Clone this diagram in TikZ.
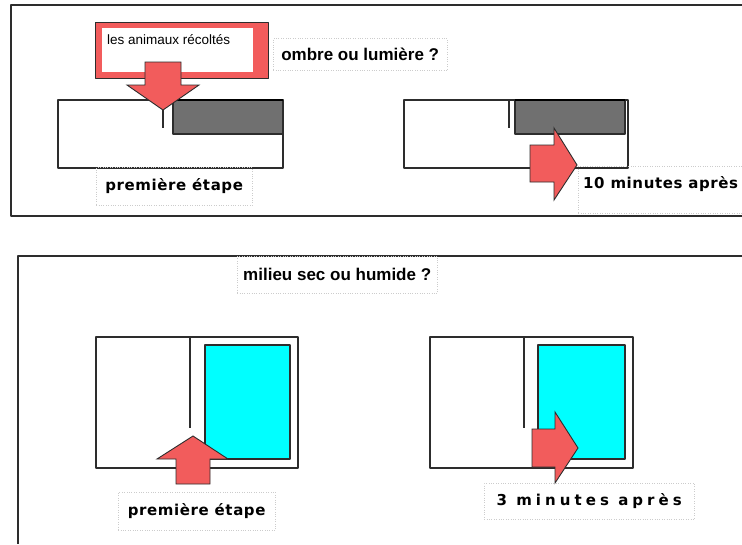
\documentclass[tikz,border=0pt]{standalone}
\usepackage{fontspec}
\setmainfont{Liberation Sans}
\newfontfamily\stepfont{DejaVu Sans}[LetterSpace=4]
\newfontfamily\widefont{DejaVu Sans}[LetterSpace=27]
\definecolor{arrowred}{RGB}{242,92,92}
\definecolor{shadegray}{RGB}{112,112,112}
\definecolor{wetcyan}{RGB}{0,255,255}
\definecolor{edgegray}{RGB}{45,45,45}
\tikzset{
	lbl/.style={draw=gray!40, dotted, anchor=north west, inner xsep=4pt, inner ysep=0pt, align=left},
	question/.style={lbl, font=\fontsize{17}{19}\selectfont\bfseries},
	steplbl/.style={lbl, font=\fontsize{15}{17}\selectfont\stepfont\bfseries},
	pointer/.style={fill=arrowred, draw=edgegray, line width=0.9pt, line join=miter}
}
\begin{document}
\begin{tikzpicture}[x=1pt, y=-1pt, line join=round]
				\useasboundingbox (0,0) rectangle (742,544);
				\fill[white] (0,0) rectangle (742,544);
				% frames of the two experiments
				\draw[edgegray, line width=1.6pt] (742,5)--(11,5)--(11,216)--(742,216);
				\draw[edgegray, line width=1.6pt] (742,256)--(18,256)--(18,544);
				% light : boxes with the dark part
				\foreach \l/\r/\d/\g/\h in {58/283/163/173/283,404/628/509/515/625} {
					\draw[edgegray, line width=1.1pt] (\l,100) rectangle (\r,168);
					\draw[edgegray, line width=1.1pt] (\d,100)--(\d,128);
					\filldraw[fill=shadegray, draw=edgegray, line width=1.1pt] (\g,100) rectangle (\h,134);
					\draw[black, line width=2pt] (\g,100)--(\h,100);
				}
				% humidity : boxes with the wet part
				\foreach \l/\r/\d/\g/\h in {96/298/190/205/290,430/633/524/538/625} {
					\draw[edgegray, line width=1.1pt] (\l,337) rectangle (\r,468);
					\draw[edgegray, line width=1.1pt] (\d,337)--(\d,428);
					\filldraw[fill=wetcyan, draw=edgegray, line width=1.1pt] (\g,345) rectangle (\h,459);
				}
				% where the animals come from
				\filldraw[fill=arrowred, draw=edgegray, line width=1pt] (95,22) rectangle (268,78);
				\fill[white] (102,28) rectangle (253,72);
				\node[anchor=west, inner sep=0pt, font=\fontsize{13.5}{15}\selectfont] (animaux) at (107,40) {les animaux récoltés};
				% arrows
				\draw[pointer] (145,62)--(181,62)--(181,85)--(199,85)--(163,110)--(127,85)--(145,85)--cycle;
				\draw[pointer] (530,145)--(554,145)--(554,128)--(577,165)--(554,200)--(554,182)--(530,182)--cycle;
				\draw[pointer] (176,484)--(176,459)--(157,459)--(193,436)--(228,459)--(210,459)--(210,484)--cycle;
				\draw[pointer] (532,429)--(555,429)--(555,412)--(578,448)--(555,483)--(555,467)--(532,467)--cycle;
				% labels
				\node[question, minimum width=174, minimum height=32] (ombre) at (273,38) {ombre ou lumière ?};
				\node[question, minimum width=200, minimum height=37, inner xsep=3pt] (milieu) at (237,256) {milieu sec ou humide ?};
				\node[steplbl, minimum width=156, minimum height=38, inner xsep=3pt] (etapeA) at (96,167) {première étape};
				\node[steplbl, minimum width=164, minimum height=47, inner xsep=5pt, text depth=15pt] (dixmin) at (578,166) {10 minutes après};
				\node[steplbl, minimum width=157, minimum height=38, inner xsep=7pt] (etapeB) at (118,492) {première étape};
				\node[lbl, font=\fontsize{15}{17}\selectfont\widefont\bfseries, minimum width=210, minimum height=36, inner xsep=1pt] (troismin) at (484,483) {3 minutes après};
			\end{tikzpicture}
\end{document}
